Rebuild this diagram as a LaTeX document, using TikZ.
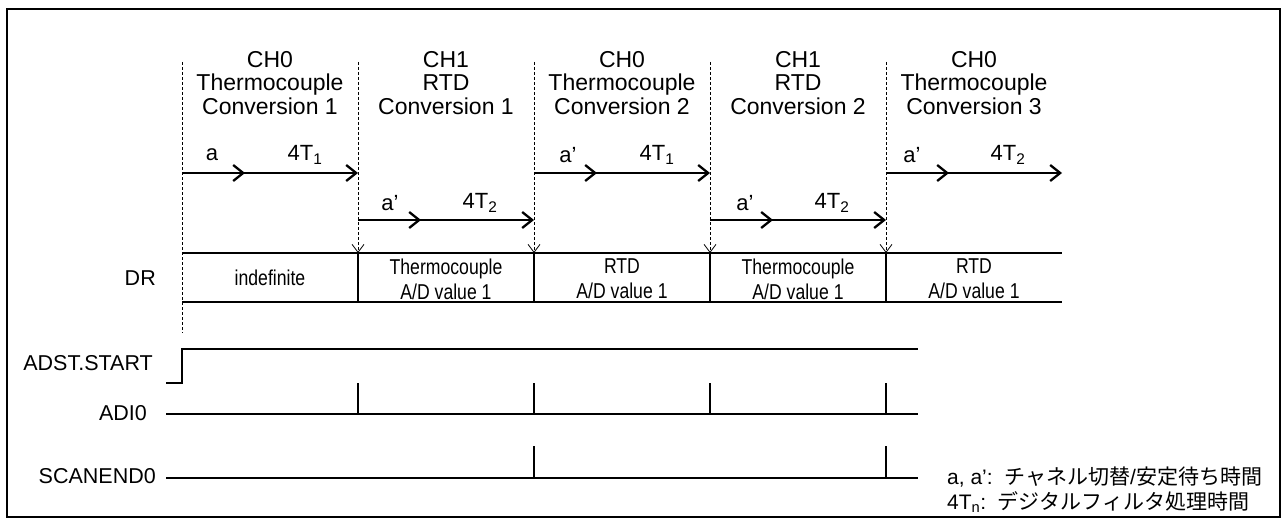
\documentclass[tikz,border=0pt]{standalone}
\usepackage{fontspec}
\setmainfont{Liberation Sans}
\newfontfamily\narrowfont[FakeStretch=0.82]{Liberation Sans}
\newfontfamily\jpfont{Noto Sans CJK JP}
\usetikzlibrary{arrows.meta,positioning,calc}
\tikzset{
  frame/.style={line width=2.2pt},
  sig/.style={line width=1.9pt},
  seq/.style={line width=2.3pt,-{Straight Barb[length=10pt,width=16pt]}},
  guide/.style={line width=0.8pt,dash pattern=on 3pt off 2pt},
  guidearr/.style={guide,-{Straight Barb[length=8pt,width=12pt]}},
  hdr/.style={align=center,inner sep=0pt,font=\fontsize{23}{23.5}\selectfont},
  lbl/.style={inner sep=0pt,font=\fontsize{22}{24}\selectfont},
  drtxt/.style={align=center,inner sep=0pt,font=\narrowfont\fontsize{21.5}{25}\selectfont},
  sname/.style={anchor=east,inner sep=0pt,font=\fontsize{21.5}{24}\selectfont},
  note/.style={anchor=west,inner sep=0pt,font=\fontsize{21}{25}\selectfont},
}

\begin{document}
\begin{tikzpicture}[x=1pt,y=-1pt]
\useasboundingbox (0,0) rectangle (1287,524);
\draw[frame] (7,9) rectangle (1280,517);

% time marks and rows
\coordinate (t0) at (182,62);
\coordinate (t1) at (358,62);
\coordinate (t2) at (534,62);
\coordinate (t3) at (710,62);
\coordinate (t4) at (886,62);
\coordinate (t5) at (1062,62);
\coordinate (rowA) at (0,173);
\coordinate (rowB) at (0,220);
\coordinate (drtop) at (0,253);
\coordinate (drbot) at (0,302);
\coordinate (start) at (166,383);
\coordinate (adi) at (166,414);
\coordinate (scan) at (166,478);
\coordinate (sigend) at (918,0);

% conversion headers
\node[hdr] (conv1) at (270,83) {CH0\\Thermocouple\\Conversion 1};
\node[hdr] (conv2) at (446,83) {CH1\\RTD\\Conversion 1};
\node[hdr] (conv3) at (622,83) {CH0\\Thermocouple\\Conversion 2};
\node[hdr] (conv4) at (798,83) {CH1\\RTD\\Conversion 2};
\node[hdr] (conv5) at (974,83) {CH0\\Thermocouple\\Conversion 3};

% guide lines
\draw[guide] (t0) -- (t0 |- 0,333);
\draw[guidearr] (t1) -- (t1 |- drtop);
\draw[guidearr] (t2) -- (t2 |- drtop);
\draw[guidearr] (t3) -- (t3 |- drtop);
\draw[guidearr] (t4) -- (t4 |- drtop);

% conversion sequence
\draw[seq] (t0 |- rowA) -- ++(63,0);
\draw[seq] (t0 |- rowA) -- (t1 |- rowA);
\draw[seq] (t1 |- rowB) -- ++(63,0);
\draw[seq] (t1 |- rowB) -- (t2 |- rowB);
\draw[seq] (t2 |- rowA) -- ++(63,0);
\draw[seq] (t2 |- rowA) -- (t3 |- rowA);
\draw[seq] (t3 |- rowB) -- ++(63,0);
\draw[seq] (t3 |- rowB) -- (t4 |- rowB);
\draw[seq] (t4 |- rowA) -- ++(63,0);
\draw[seq] (t4 |- rowA) -- (t5 |- rowA);

\node[lbl] (wt1) at (212,155) {a};
\node[lbl] (ft1) at (305,155) {4T\textsubscript{1}};
\node[lbl] (wt2) at (390,203) {a’};
\node[lbl] (ft2) at (480,203) {4T\textsubscript{2}};
\node[lbl] (wt3) at (568,155) {a’};
\node[lbl] (ft3) at (657,155) {4T\textsubscript{1}};
\node[lbl] (wt4) at (745,203) {a’};
\node[lbl] (ft4) at (832,203) {4T\textsubscript{2}};
\node[lbl] (wt5) at (912,155) {a’};
\node[lbl] (ft5) at (1008,155) {4T\textsubscript{2}};

% DR register
\node[sname] (drname) at (156,278) {DR};
\draw[sig] (t0 |- drtop) -- (t5 |- drtop);
\draw[sig] (t0 |- drbot) -- (t5 |- drbot);
\draw[sig] (t1 |- drtop) -- (t1 |- drbot);
\draw[sig] (t2 |- drtop) -- (t2 |- drbot);
\draw[sig] (t3 |- drtop) -- (t3 |- drbot);
\draw[sig] (t4 |- drtop) -- (t4 |- drbot);
\node[drtxt] (dr1) at (270,278) {indefinite};
\node[drtxt] (dr2) at (446,279) {Thermocouple\\A/D value 1};
\node[drtxt] (dr3) at (622,279) {RTD\\A/D value 1};
\node[drtxt] (dr4) at (798,279) {Thermocouple\\A/D value 1};
\node[drtxt] (dr5) at (974,279) {RTD\\A/D value 1};

% signals
\node[sname] (stname) at (153,363) {ADST.START};
\draw[sig] (start) -- (t0 |- start) -- (t0 |- 0,349) -- (sigend |- 0,349);

\node[sname] (adname) at (147,413) {ADI0};
\draw[sig] (adi) -- (sigend |- adi);
\draw[sig] (t1 |- adi) -- (t1 |- start);
\draw[sig] (t2 |- adi) -- (t2 |- start);
\draw[sig] (t3 |- adi) -- (t3 |- start);
\draw[sig] (t4 |- adi) -- (t4 |- start);

\node[sname] (scname) at (156,476) {SCANEND0};
\draw[sig] (scan) -- (sigend |- scan);
\draw[sig] (t2 |- scan) -- (t2 |- 0,446);
\draw[sig] (t4 |- scan) -- (t4 |- 0,446);

% legend
\node[note] (note1) at (947,477) {a, a’:\ \ {\jpfont チャネル切替}/{\jpfont 安定待ち時間}};
\node[note] (note2) at (947,502) {4T\textsubscript{n}:\ \ {\jpfont デジタルフィルタ処理時間}};
\end{tikzpicture}
\end{document}
